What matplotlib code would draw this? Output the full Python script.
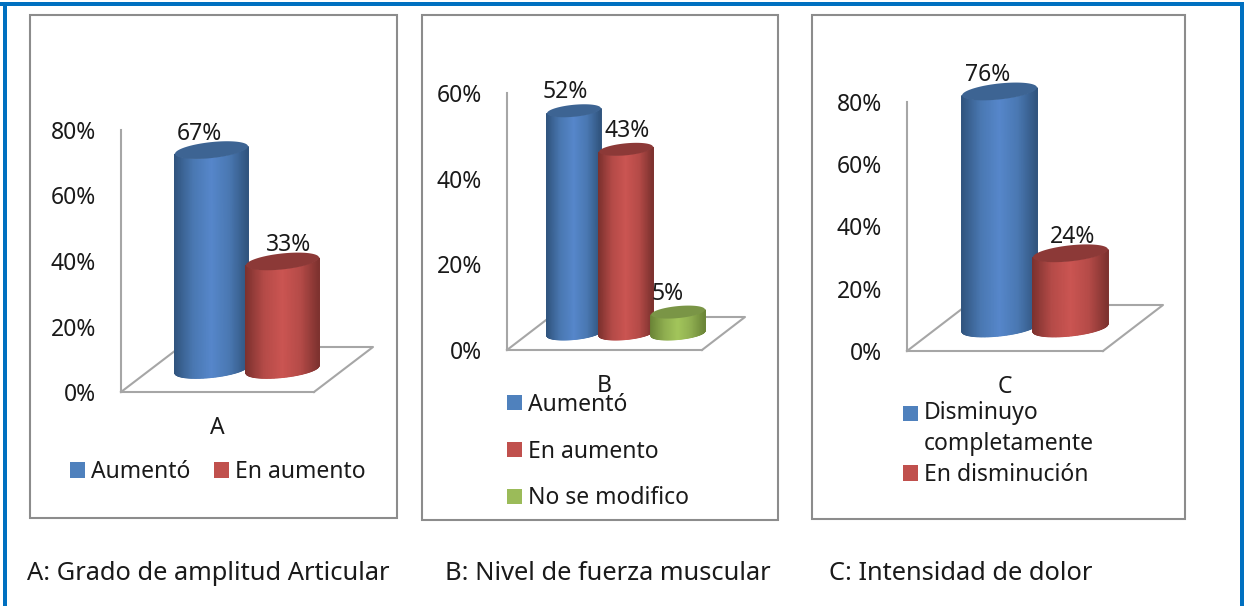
import numpy as np
import matplotlib
matplotlib.use("Agg")
import matplotlib.pyplot as plt
from matplotlib.colors import LinearSegmentedColormap
from matplotlib.patches import Patch, Rectangle

plt.rcParams["font.family"] = "Noto Sans"

W, H = 1244, 606
FS = 16.5

# values per panel, in percent
labels_a = ["Aumentó", "En aumento"]
values_a = [67, 33]
labels_b = ["Aumentó", "En aumento", "No se modifico"]
values_b = [52, 43, 5]
labels_c = ["Disminuyo\ncompletamente", "En disminución"]
values_c = [76, 24]

ticks_a = [0, 20, 40, 60, 80]
ticks_b = [0, 20, 40, 60]
ticks_c = [0, 20, 40, 60, 80]

captions = ["A: Grado de amplitud Articular", "B: Nivel de fuerza muscular", "C: Intensidad de dolor"]

# edge, middle, centre, top cap, legend swatch
BLUE = ("#31557F", "#4A78B2", "#5687CB", "#3D6493", "#4F81BD")
RED = ("#7E322F", "#B54B48", "#CB5552", "#8C3937", "#C0504D")
GREEN = ("#6C8638", "#8FAE50", "#A3C65B", "#7A9546", "#9BBB59")

GRAY = "#A6A6A6"
FRAME = "#8C8C8C"
TEXT = "#1A1A1A"


def fig_box(x0, y0, x1, y1):
    # pixel box, y measured from the top, to figure fractions
    return [x0 / W, 1 - y1 / H, (x1 - x0) / W, (y1 - y0) / H]


def cylinder(ax, xc, value, r, depth_x, depth_y, b, shear, colors):
    t = np.linspace(np.pi, 0, 80)
    u = np.cos(t)
    x = xc + depth_x / 2 + r * u
    front = depth_y / 2 - b * np.sin(t) + shear * u
    X = np.vstack([x, x])
    Y = np.vstack([front, front + value])
    shade = 1 - np.abs(u)
    shade = np.vstack([shade, shade])
    cmap = LinearSegmentedColormap.from_list("cyl", colors[:3])
    ax.pcolormesh(X, Y, shade, shading="gouraud", cmap=cmap, vmin=0, vmax=1,
                  clip_on=False, zorder=3)
    # top cap
    s = np.linspace(0, 2 * np.pi, 120)
    ax.fill(xc + depth_x / 2 + r * np.cos(s),
            value + depth_y / 2 + b * np.sin(s) + shear * np.cos(s),
            color=colors[3], lw=0, clip_on=False, zorder=3)


def panel(fig, frame, box, category, values, ticks, colors, spacing, r,
          depth_px, b_px, shear_px, label_nudge, label_lift):
    x0, ytop, x1, y0 = box
    fig.add_artist(Rectangle((frame[0] / W, 1 - frame[3] / H),
                             (frame[2] - frame[0]) / W, (frame[3] - frame[1]) / H,
                             transform=fig.transFigure, fc="none", ec=FRAME, lw=1.5))
    ax = fig.add_axes(fig_box(x0, ytop, x1, y0))
    ax.patch.set_alpha(0)
    ymax = ticks[-1]
    per_pct = (y0 - ytop) / ymax
    depth_x = depth_px[0] / (x1 - x0)
    depth_y = depth_px[1] / per_pct
    b = b_px / per_pct
    shear = shear_px / per_pct

    # floor outline
    ax.plot([0, depth_x, 1 + depth_x, 1], [0, depth_y, depth_y, 0],
            color=GRAY, lw=1.5, clip_on=False, zorder=1)

    n = len(values)
    for i, v in enumerate(values):
        xc = 0.5 + spacing * (i - (n - 1) / 2)
        cylinder(ax, xc, v, r, depth_x, depth_y, b, shear, colors[i])
        ax.annotate(f"{v}%", (xc + depth_x / 2, v + depth_y / 2),
                    xytext=(label_nudge[i] * 0.72, label_lift * 0.72), textcoords="offset points",
                    ha="center", va="center", fontsize=FS, color=TEXT, zorder=5,
                    annotation_clip=False)

    ax.set_xlim(0, 1)
    ax.set_ylim(0, ymax)
    ax.set_yticks(ticks)
    ax.set_yticklabels([f"{t}%" for t in ticks], fontsize=FS, color=TEXT)
    ax.set_xticks([0.5])
    ax.set_xticklabels([category], fontsize=FS, color=TEXT)
    ax.tick_params(axis="y", length=0, pad=18)
    ax.tick_params(axis="x", length=0, pad=17)
    for side in ["top", "right"]:
        ax.spines[side].set_visible(False)
    for side in ["left", "bottom"]:
        ax.spines[side].set_color(GRAY)
        ax.spines[side].set_linewidth(1.5)
    return ax


def add_legend(ax, labels, colors, x, y, ncol=1, labelspacing=0.5, columnspacing=1.0):
    handles = [Patch(fc=c[4], ec="none") for c in colors]
    return ax.legend(handles, labels, loc="center left", bbox_to_anchor=(x / W, 1 - y / H),
                     bbox_transform=ax.figure.transFigure, frameon=False, fontsize=FS,
                     ncol=ncol, labelspacing=labelspacing, columnspacing=columnspacing,
                     handlelength=0.65, handleheight=0.65, handletextpad=0.27,
                     borderpad=0, borderaxespad=0, labelcolor=TEXT)


fig = plt.figure(figsize=(W / 100, H / 100), dpi=100, facecolor="white")

# outer border, open at the bottom
BORDER = "#0070C0"
fig.add_artist(Rectangle((0, 1 - 6 / H), 1, 4 / H, transform=fig.transFigure, fc=BORDER, ec="none"))
fig.add_artist(Rectangle((3 / W, 0), 4 / W, 1 - 2 / H, transform=fig.transFigure, fc=BORDER, ec="none"))
fig.add_artist(Rectangle((1240 / W, 0), 4 / W, 1 - 2 / H, transform=fig.transFigure, fc=BORDER, ec="none"))

ax_a = panel(fig, (30, 15, 397, 518), (121, 130, 314, 392), "A", values_a, ticks_a,
             [BLUE, RED], 0.368, 0.189, (59, 45), 8, 3.75, (-12, 6), 16.5)
add_legend(ax_a, labels_a, [BLUE, RED], 70, 472, ncol=2, columnspacing=1.04)

ax_b = panel(fig, (422, 15, 778, 520), (507, 93, 702, 350), "B", values_b, ticks_b,
             [BLUE, RED, GREEN], 0.267, 0.138, (43, 33), 6, 2.5, (-9, 1, -10), 18.5)
add_legend(ax_b, labels_b, [BLUE, RED, GREEN], 507, 451.5, labelspacing=1.0)

ax_c = panel(fig, (812, 15, 1185, 519), (907, 102, 1103, 351), "C", values_c, ticks_c,
             [BLUE, RED], 0.362, 0.191, (60, 46), 8, 3.9, (-12, 2), 16.5)
leg_c = add_legend(ax_c, labels_c, [BLUE, RED], 903, 444, labelspacing=0.3)
for txt in leg_c.get_texts():
    txt.set_linespacing(1.4)
# swatch of the two-line entry sits on its first line
first = leg_c.legend_handles[0]
first.set_y(first.get_y() + 11.5)

for x, cap in zip([27, 445, 829], captions):
    fig.text(x / W, 1 - 573 / H, cap, fontsize=18.3, color=TEXT, ha="left", va="center")

fig.savefig("out.png", dpi=100)
